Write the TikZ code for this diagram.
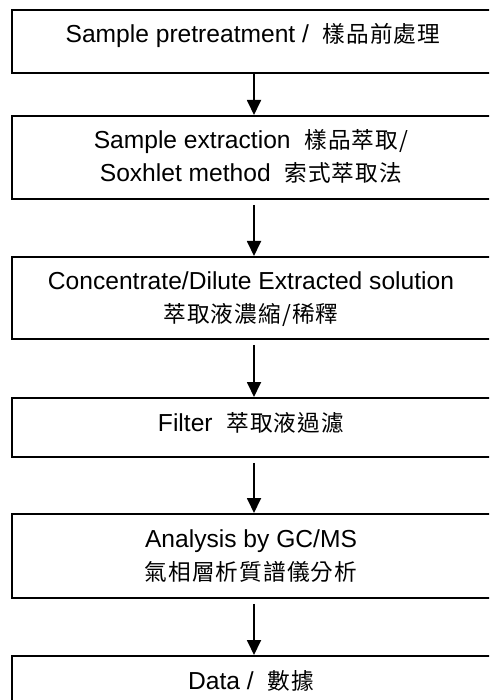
\documentclass[tikz,border=0pt]{standalone}
\usepackage{fontspec}
\setmainfont{Liberation Sans}
\newfontfamily\cjk[Scale=0.92,LetterSpace=5]{Noto Sans CJK TC}
\usetikzlibrary{arrows.meta}
\begin{document}
\begin{tikzpicture}[x=1pt,y=-1pt,
  box/.style={draw=black, line width=1.8pt, rectangle, inner sep=0pt, minimum width=482pt, anchor=north},
  txt/.style={anchor=base, inner sep=0pt, font=\fontsize{24.6}{28}\selectfont},
  flow/.style={-{Triangle[width=14pt,length=15pt]}, line width=1.8pt}]
\useasboundingbox (0,0) rectangle (489,700);
\clip (0,0) rectangle (489,700);
\node[box, minimum height=63pt] (b1) at (253,9) {};
\node[box, minimum height=83pt] (b2) at (253,115) {};
\node[box, minimum height=82pt] (b3) at (253,256) {};
\node[box, minimum height=59pt] (b4) at (253,397) {};
\node[box, minimum height=84pt] (b5) at (253,513) {};
\node[box, minimum height=70pt] (b6) at (253,655) {};
\node[txt] (t1) at (253,43) {Sample pretreatment /\ \ \cjk{樣品前處理}};
\node[txt] (t2a) at (251,149) {Sample extraction\ \ \cjk{樣品萃取}/};
\node[txt] (t2b) at (251,182) {Soxhlet method\ \ \cjk{索式萃取法}};
\node[txt] (t3a) at (251,289) {Concentrate/Dilute Extracted solution};
\node[txt] (t3b) at (251,322) {\cjk{萃取液濃縮}/\cjk{稀釋}};
\node[txt] (t4) at (251,431) {Filter\ \ \cjk{萃取液過濾}};
\node[txt] (t5a) at (251,547) {Analysis by GC/MS};
\node[txt] (t5b) at (251,580) {\cjk{氣相層析質譜儀分析}};
\node[txt] (t6) at (251,689) {Data /\ \ \cjk{數據}};
\draw[flow] ([xshift=1pt]b1.south) -- ([xshift=1pt]b2.north);
\draw[flow] ([xshift=1pt,yshift=-5pt]b2.south) -- ([xshift=1pt]b3.north);
\draw[flow] ([xshift=1pt,yshift=-5pt]b3.south) -- ([xshift=1pt]b4.north);
\draw[flow] ([xshift=1pt,yshift=-5pt]b4.south) -- ([xshift=1pt]b5.north);
\draw[flow] ([xshift=1pt,yshift=-5pt]b5.south) -- ([xshift=1pt]b6.north);
\end{tikzpicture}
\end{document}
